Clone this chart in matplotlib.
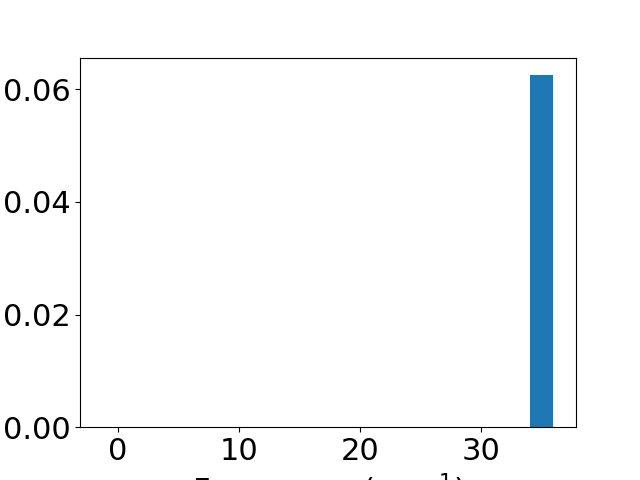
import matplotlib
matplotlib.use("Agg")
import matplotlib.pyplot as plt
import numpy as np

# histogram bin edges (19 bins) and bar heights
bin_edges = [-1.27, 0.69, 2.65, 4.61, 6.58, 8.54, 10.50, 12.46, 14.42, 16.39,
             18.35, 20.31, 22.27, 24.23, 26.19, 28.16, 30.12, 32.08, 34.04, 36.00]
counts = [0, 0, 0, 0, 0, 0, 0, 0, 0, 0, 0, 0, 0, 0, 0, 0, 0, 0, 0.0625]

plt.rcParams["font.size"] = 22

fig, ax = plt.subplots(figsize=(6.4, 4.8), dpi=100)
ax.bar(bin_edges[:-1], counts, width=np.diff(bin_edges), align="edge", color="#1f77b4")
ax.set_xticks([0, 10, 20, 30])
ax.set_yticks([0.0, 0.02, 0.04, 0.06])
ax.set_xlabel("Frequency (cm$^{-1}$)")
fig.savefig("out.png")
